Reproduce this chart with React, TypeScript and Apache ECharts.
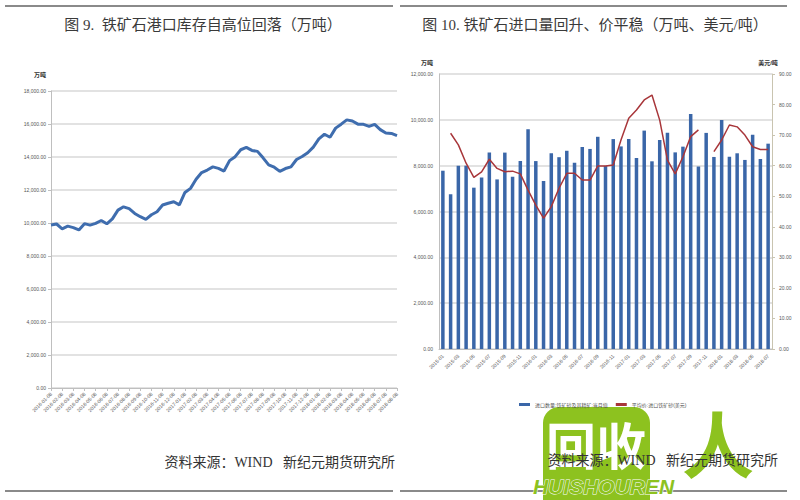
import React, { useEffect, useRef } from "react";
import * as echarts from "echarts";

// ---------- Figure 9: port inventory (万吨) ----------
const stockMonths = [
  "2016-01", "2016-02", "2016-03", "2016-04", "2016-05", "2016-06", "2016-07", "2016-08",
  "2016-09", "2016-10", "2016-11", "2016-12", "2017-01", "2017-02", "2017-03", "2017-04",
  "2017-05", "2017-06", "2017-07", "2017-08", "2017-09", "2017-10", "2017-11", "2017-12",
  "2018-01", "2018-02", "2018-03", "2018-04", "2018-05", "2018-06", "2018-07", "2018-08",
];
const stockDates: string[] = [];
stockMonths.forEach((m, i) => {
  stockDates.push(m + "-08");
  if (i < stockMonths.length - 1) stockDates.push(m + "-22");
});
const portStock = [
  9880, 9940, 9650, 9810, 9720, 9580, 9960, 9870, 9980, 10150,
  9950, 10250, 10780, 10980, 10870, 10580, 10380, 10220, 10500, 10680,
  11090, 11200, 11290, 11100, 11850, 12100, 12650, 13060, 13210, 13400,
  13310, 13150, 13780, 14020, 14440, 14580, 14400, 14340, 13950, 13520,
  13380, 13130, 13300, 13400, 13850, 14030, 14260, 14600, 15100, 15380,
  15200, 15750, 15990, 16250, 16180, 15990, 15980, 15860, 15980, 15660,
  15450, 15430, 15300,
];

// ---------- Figure 10: imports (万吨) and price (美元/吨) ----------
const importMonths = [
  "2015-01", "2015-02", "2015-03", "2015-04", "2015-05", "2015-06", "2015-07", "2015-08",
  "2015-09", "2015-10", "2015-11", "2015-12", "2016-01", "2016-02", "2016-03", "2016-04",
  "2016-05", "2016-06", "2016-07", "2016-08", "2016-09", "2016-10", "2016-11", "2016-12",
  "2017-01", "2017-02", "2017-03", "2017-04", "2017-05", "2017-06", "2017-07", "2017-08",
  "2017-09", "2017-10", "2017-11", "2017-12", "2018-01", "2018-02", "2018-03", "2018-04",
  "2018-05", "2018-06", "2018-07",
];
const importVolume = [
  7780, 6750, 8000, 8000, 7040, 7480, 8570, 7400, 8570, 7520,
  8200, 9590, 8200, 7330, 8540, 8370, 8650, 8130, 8810, 8730,
  9260, 7990, 9160, 8840, 9160, 8330, 9530, 8190, 9120, 9440,
  8580, 8830, 10250, 7960, 9430, 8380, 9990, 8390, 8540, 8250,
  9350, 8290, 8960,
];
const importPrice: (number | null)[] = [
  null, 70.6, 66.8, 60.8, 56.2, 58.0, 62.1, 59.1, 58.0, 58.2,
  57.3, 52.0, 47.1, 42.8, 46.6, 52.6, 57.5, 57.5, 55.3, 55.3,
  59.9, 59.9, 60.2, 68.4, 75.5, 78.2, 81.5, 83.1, 74.9, 61.8,
  57.3, 62.9, 69.5, 71.7, null, 64.6, 68.4, 73.3, 72.7, 70.0,
  66.2, 65.3, 65.3,
];

const stockTicks = [0, 2000, 4000, 6000, 8000, 10000, 12000, 14000, 16000, 18000];
const volumeTicks = [0, 2000, 4000, 6000, 8000, 10000, 12000];
const priceTicks = [0, 10, 20, 30, 40, 50, 60, 70, 80, 90];

const titleLeft = "图 9.  铁矿石港口库存自高位回落（万吨）";
const titleRight = "图 10. 铁矿石进口量回升、价平稳（万吨、美元/吨）";
const sourceText = "资料来源：WIND   新纪元期货研究所";
const volumeName = "进口数量:铁矿砂及其精矿:当月值";
const priceName = "平均价:进口铁矿砂(美元)";

const SERIF = "'Liberation Serif', 'Noto Sans CJK SC', serif";
const SANS = "'Liberation Sans', 'Noto Sans CJK SC', sans-serif";

const fmt2 = (v: number) =>
  v.toLocaleString("en-US", { minimumFractionDigits: 2, maximumFractionDigits: 2 });

export default function App() {
  const ref = useRef<HTMLDivElement>(null);

  useEffect(() => {
    if (!ref.current) return;
    const chart = echarts.init(ref.current, null, { renderer: "svg" });
    const labelStyle = { fontSize: 5, color: "#555555", fontFamily: SANS };
    const gridLine = { show: true, lineStyle: { color: "#D9D9D9", width: 1.5 } };
    const axisLineGray = { show: true, lineStyle: { color: "#BFBFBF", width: 1 } };

    chart.setOption({
      animation: false,
      backgroundColor: "#ffffff",
      grid: [
        { left: 51, top: 91, width: 346, height: 297 },
        { left: 439, top: 74, width: 333, height: 275 },
      ],
      legend: {
        left: 514,
        top: 397,
        itemWidth: 11,
        itemHeight: 3,
        itemGap: 8,
        icon: "rect",
        textStyle: { fontSize: 5, color: "#555", fontFamily: SANS },
        data: [volumeName, priceName],
      },
      xAxis: [
        {
          type: "category",
          gridIndex: 0,
          data: stockDates,
          boundaryGap: false,
          axisLine: axisLineGray,
          axisTick: { show: true, interval: 1, length: 3, lineStyle: { color: "#BFBFBF" } },
          axisLabel: { ...labelStyle, interval: 1, rotate: 45, margin: 5 },
          splitLine: { show: false },
        },
        {
          type: "category",
          gridIndex: 1,
          data: importMonths,
          boundaryGap: true,
          axisLine: axisLineGray,
          axisTick: { show: false },
          axisLabel: { ...labelStyle, interval: 1, rotate: 45, margin: 6 },
          splitLine: { show: false },
        },
      ],
      yAxis: [
        {
          type: "value",
          gridIndex: 0,
          min: stockTicks[0],
          max: stockTicks[stockTicks.length - 1],
          interval: 2000,
          axisLine: axisLineGray,
          axisTick: { show: true, length: 3, lineStyle: { color: "#BFBFBF" } },
          axisLabel: { ...labelStyle, margin: 5, formatter: (v: number) => fmt2(v) },
          splitLine: gridLine,
        },
        {
          type: "value",
          gridIndex: 1,
          min: volumeTicks[0],
          max: volumeTicks[volumeTicks.length - 1],
          interval: 2000,
          axisLine: axisLineGray,
          axisTick: { show: false },
          axisLabel: { ...labelStyle, margin: 6, formatter: (v: number) => fmt2(v) },
          splitLine: gridLine,
        },
        {
          type: "value",
          gridIndex: 1,
          position: "right",
          min: priceTicks[0],
          max: priceTicks[priceTicks.length - 1],
          interval: 10,
          axisLine: { show: true, lineStyle: { color: "#C9C4B0", width: 1 } },
          axisTick: { show: true, length: 3, inside: false, lineStyle: { color: "#C9C4B0" } },
          axisLabel: { ...labelStyle, margin: 7, formatter: (v: number) => v.toFixed(2) },
          splitLine: { show: false },
        },
      ],
      series: [
        {
          type: "line",
          xAxisIndex: 0,
          yAxisIndex: 0,
          data: portStock,
          showSymbol: false,
          lineStyle: { color: "#3F6DAE", width: 3 },
          itemStyle: { color: "#3F6DAE" },
        },
        {
          name: volumeName,
          type: "bar",
          xAxisIndex: 1,
          yAxisIndex: 1,
          data: importVolume,
          barWidth: 3.5,
          itemStyle: { color: "#3A66A8" },
        },
        {
          name: priceName,
          type: "line",
          xAxisIndex: 1,
          yAxisIndex: 2,
          data: importPrice,
          showSymbol: false,
          connectNulls: false,
          lineStyle: { color: "#A8363A", width: 1.5 },
          itemStyle: { color: "#A8363A" },
          z: 5,
        },
      ],
      graphic: [
        // frame lines
        { type: "line", shape: { x1: 5, y1: 6, x2: 393, y2: 6 }, style: { stroke: "#8A8A8A", lineWidth: 2 } },
        { type: "line", shape: { x1: 400, y1: 6, x2: 787, y2: 6 }, style: { stroke: "#8A8A8A", lineWidth: 2 } },
        { type: "line", shape: { x1: 5, y1: 491, x2: 393, y2: 491 }, style: { stroke: "#8A8A8A", lineWidth: 2 } },
        { type: "line", shape: { x1: 400, y1: 491, x2: 787, y2: 491 }, style: { stroke: "#8A8A8A", lineWidth: 2 } },
        // titles
        {
          type: "text", x: 203, y: 25,
          style: { text: titleLeft, fill: "#3a3a3a", fontSize: 15, fontFamily: SERIF, align: "center", verticalAlign: "middle" },
        },
        {
          type: "text", x: 595, y: 25,
          style: { text: titleRight, fill: "#3a3a3a", fontSize: 15, fontFamily: SERIF, align: "center", verticalAlign: "middle" },
        },
        // unit labels
        { type: "text", x: 40, y: 75, style: { text: "万吨", fill: "#333", fontSize: 6, fontFamily: SANS, align: "center", verticalAlign: "middle", fontWeight: "bold" } },
        { type: "text", x: 427, y: 63, style: { text: "万吨", fill: "#333", fontSize: 6, fontFamily: SANS, align: "center", verticalAlign: "middle", fontWeight: "bold" } },
        { type: "text", x: 768, y: 63, style: { text: "美元/吨", fill: "#333", fontSize: 6, fontFamily: SANS, align: "center", verticalAlign: "middle", fontWeight: "bold" } },
        // watermark
        {
          type: "group", z: 50,
          children: [
            { type: "rect", shape: { x: 543, y: 407, width: 107, height: 110, r: 16 }, style: { fill: "#8DC21F" } },
            { type: "text", x: 546, y: 418, style: { text: "回收", fill: "#ffffff", fontSize: 50, fontWeight: "bold", fontFamily: "'Noto Sans CJK SC', sans-serif" } },
            { type: "text", x: 718, y: 440, style: { text: "人", fill: "#8DC21F", fontSize: 72, fontWeight: "bold", fontFamily: "'Noto Sans CJK SC', sans-serif", align: "center", verticalAlign: "middle" } },
            { type: "text", x: 533, y: 476, style: { text: "HUISHOUREN", fill: "#8DC21F", stroke: "#ffffff", lineWidth: 1, fontSize: 21, fontWeight: "bold", fontStyle: "italic", fontFamily: "'Liberation Sans', sans-serif" } },
          ],
        },
        // sources
        {
          type: "text", x: 395, y: 462, z: 100,
          style: { text: sourceText, fill: "#333", fontSize: 14, fontFamily: SERIF, align: "right", verticalAlign: "middle" },
        },
        {
          type: "text", x: 778, y: 460, z: 100,
          style: { text: sourceText, fill: "#333", fontSize: 14, fontFamily: SERIF, align: "right", verticalAlign: "middle" },
        },
      ],
    });
    return () => chart.dispose();
  }, []);

  return (
    <div
      ref={ref}
      style={{ position: "fixed", left: 0, top: 0, width: 800, height: 500, background: "#fff" }}
    />
  );
}
